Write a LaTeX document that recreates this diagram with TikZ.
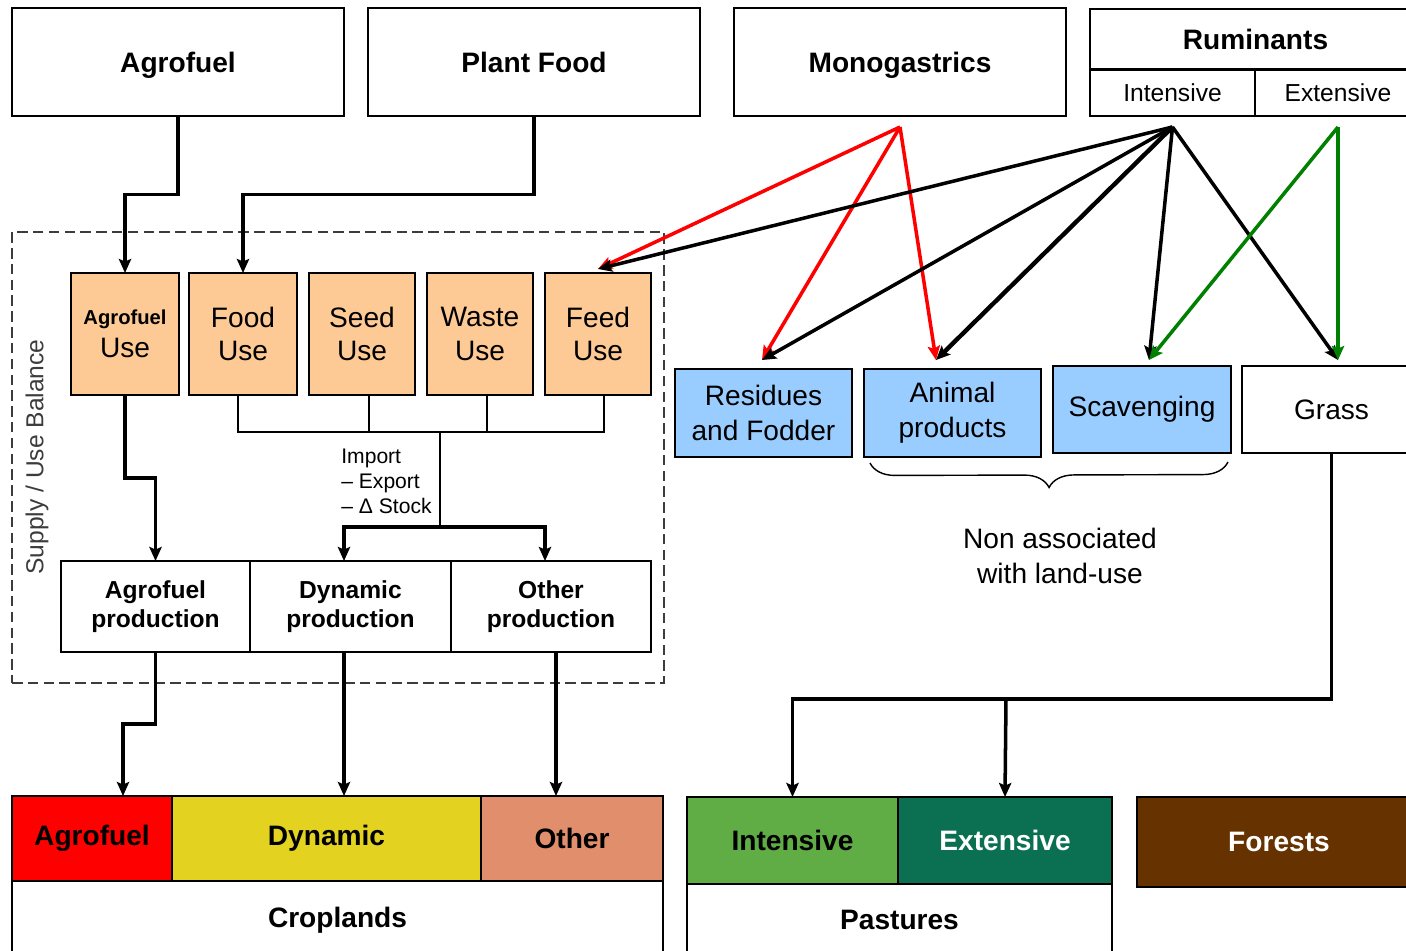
\documentclass[tikz,border=0pt]{standalone}
\usepackage{fontspec}
\setmainfont{Liberation Sans}
\usepackage{tikz}
\usetikzlibrary{arrows.meta,calc,decorations.pathreplacing}
\usepackage{xcolor}

\definecolor{usoNaranja}{RGB}{253,202,150}
\definecolor{azulCaja}{RGB}{153,204,255}
\definecolor{amarilloDin}{RGB}{227,210,32}
\definecolor{salmonOtro}{RGB}{224,142,107}
\definecolor{verdeInt}{RGB}{96,173,70}
\definecolor{verdeExt}{RGB}{11,112,82}
\definecolor{marronBosque}{RGB}{102,51,0}
\definecolor{verdeFlecha}{RGB}{0,128,0}
\definecolor{grisBorde}{RGB}{60,60,60}

\begin{document}
\begin{tikzpicture}[x=0.02cm, y=-0.02cm,
    sz/.style 2 args={minimum width=#1*0.02cm, minimum height=#2*0.02cm},
    caja/.style={draw, line width=0.9pt, inner sep=0pt, outer sep=0pt, align=center,
      font=\fontsize{16}{19}\selectfont},
    negrita/.style={caja, font=\fontsize{16}{19}\selectfont\bfseries},
    prod/.style={caja, font=\fontsize{14}{16.5}\selectfont\bfseries},
    flecha/.style={line width=2pt, -{Stealth[length=8pt,width=7pt,inset=1.5pt]}},
    linea/.style={line width=1pt}]
    \useasboundingbox (0,0) rectangle (1406,950);
    \clip (0,0) rectangle (1406,950);

    % Cajas superiores
    \node[negrita, text depth=0pt, sz={332}{108}] (agrotop) at (178,62) {Agrofuel};
    \node[negrita, text depth=0pt, sz={332}{108}] (plant) at (534,62) {Plant Food};
    \node[negrita, text depth=0pt, sz={332}{108}] (mono) at (900,62) {Monogastrics};
    \node[negrita, sz={331}{60}] (rum) at (1255.5,39) {Ruminants};
    \node[caja, font=\fontsize{14}{16}\selectfont, sz={165}{46}] (rumint) at (1172.5,93) {Intensive};
    \node[caja, font=\fontsize{14}{16}\selectfont, sz={166}{46}] (rumext) at (1338,93) {Extensive};

    % Balance de oferta / uso
    \node[draw=grisBorde, dash pattern=on 6pt off 3pt, line width=1.5pt, sz={652}{451}] (balance) at (338,457.5) {};
    \node[rotate=90, text=grisBorde, font=\fontsize{14}{16}\selectfont] (balancelbl) at (37,457) {Supply / Use Balance};

    % Usos
    \node[caja, fill=usoNaranja, sz={108}{122}] (agrouse) at (125,334) {{\fontsize{11.5}{13}\selectfont\bfseries Agrofuel}\\Use};
    \node[caja, fill=usoNaranja, sz={108}{122}] (fooduse) at (243,334) {Food\\Use};
    \node[caja, fill=usoNaranja, sz={106}{122}] (seeduse) at (362,334) {Seed\\Use};
    \node[caja, fill=usoNaranja, sz={106}{122}] (wasteuse) at (480,334) {Waste\\Use};
    \node[caja, fill=usoNaranja, sz={106}{122}] (feeduse) at (598,334) {Feed\\Use};

    % Producciones
    \node[prod, sz={189}{91}] (agroprod) at (155.5,606.5) {Agrofuel\\production};
    \node[prod, sz={201}{91}] (dynprod) at (350.5,606.5) {Dynamic\\production};
    \node[prod, sz={200}{91}] (othprod) at (551,606.5) {Other\\production};

    % Texto de flujos
    \node[anchor=north west, align=left, inner sep=0pt, font=\fontsize{12}{14}\selectfont] (flows) at (341,449) {Import\\– Export\\– Δ Stock};

    % Cajas de alimento animal
    \node[caja, fill=azulCaja, font=\fontsize{16}{20}\selectfont, sz={177}{88}] (resid) at (763.5,413) {Residues\\and Fodder};
    \node[caja, fill=azulCaja, font=\fontsize{16}{20}\selectfont, sz={177}{88}] (anim) at (952.5,413) {Animal\\products};
    \node[caja, fill=azulCaja, sz={178}{87}] (scav) at (1142,409.5) {Scavenging};
    \node[caja, sz={179}{87}] (grass) at (1331.5,409.5) {Grass};

    % Llave
    \draw[decorate, decoration={brace, mirror, amplitude=0.5cm}, line width=0.8pt]
      ([xshift=0.12cm,yshift=-0.12cm]anim.south west) -- ([xshift=-0.06cm,yshift=-0.18cm]scav.south east);
    \node[align=center, font=\fontsize{16}{20}\selectfont] (nonassoc) at (1060,556) {Non associated\\with land-use};

    % Usos del suelo
    \node[caja, sz={651}{78}] (crop) at (337.5,920) {\bfseries Croplands};
    \node[negrita, fill=red, sz={160}{85}] (cropagro) at (92,838.5) {Agrofuel};
    \node[negrita, fill=amarilloDin, sz={309}{85}] (cropdyn) at (326.5,838.5) {Dynamic};
    \node[negrita, fill=salmonOtro, sz={182}{85}] (cropoth) at (572,838.5) {Other};
    \node[caja, sz={425}{72}] (past) at (899.5,920) {\bfseries Pastures};
    \node[negrita, fill=verdeInt, sz={211}{87}] (pastint) at (792.5,840.5) {Intensive};
    \node[negrita, fill=verdeExt, text=white, sz={214}{87}] (pastext) at (1005,840.5) {Extensive};
    \node[negrita, fill=marronBosque, text=white, sz={284}{90}] (forest) at (1279,842) {Forests};

    % Puntos de salida y llegada de las flechas de colores
    \coordinate (monopt) at ([yshift=-0.22cm]mono.south);
    \coordinate (rumpt) at ([yshift=-0.22cm]rumint.south);
    \coordinate (extpt) at ([yshift=-0.22cm]rumext.south);
    \coordinate (feedin) at ([yshift=0.08cm]feeduse.north);
    \coordinate (residin) at (762,360);
    \coordinate (animin) at (936,360);
    \coordinate (scavin) at (1149,360);
    \coordinate (grassin) at (1338,360);

    % Flechas superiores
    \draw[flecha] (agrotop.south) |- ($(agrotop.south)!.5!(agrouse.north)$) -| (agrouse.north);
    \draw[flecha] (plant.south) |- ($(plant.south)!.5!(fooduse.north)$) -| (fooduse.north);

    % Monogastricos
    \draw[flecha, red] (monopt) -- (feedin);
    \draw[flecha, red] (monopt) -- (residin);
    \draw[flecha, red] (monopt) -- (animin);

    % Rumiantes
    \draw[flecha] (rumpt) -- (feedin);
    \draw[flecha] (rumpt) -- (residin);
    \draw[flecha, line width=2.5pt] (rumpt) -- (animin);
    \draw[flecha] (rumpt) -- (scavin);
    \draw[flecha] (rumpt) -- (grassin);
    \draw[flecha, verdeFlecha] (extpt) -- (scavin);
    \draw[flecha, verdeFlecha] (extpt) -- (grassin);

    % Usos hacia producciones
    \coordinate (bar) at (440,432);
    \coordinate (split) at (440,527);
    \draw[linea] ([xshift=-0.1cm]fooduse.south) |- (bar);
    \draw[linea] ([xshift=0.14cm]seeduse.south) |- (bar);
    \draw[linea] ([xshift=0.14cm]wasteuse.south) |- (bar);
    \draw[linea] ([xshift=0.12cm]feeduse.south) |- (bar);
    \draw[linea] (bar) -- (split);
    \draw[flecha] (split) -| ([xshift=-0.13cm]dynprod.north);
    \draw[flecha] (split) -| ([xshift=-0.12cm]othprod.north);
    \draw[flecha] (agrouse.south) |- ($(agrouse.south)!.5!(agroprod.north)$) -| (agroprod.north);

    % Producciones hacia cultivos
    \coordinate (cropagroin) at (123,796);
    \draw[flecha] (agroprod.south) |- ($(agroprod.south)!.5!(cropagroin)$) -| (cropagroin);
    \draw[flecha] ([xshift=-0.13cm]dynprod.south) -- ([xshift=-0.13cm]dynprod.south |- cropdyn.north);
    \draw[flecha] ([xshift=0.1cm]othprod.south) -- ([xshift=0.1cm]othprod.south |- cropoth.north);

    % Pasto hacia pastizales
    \coordinate (gbus) at (1006,699);
    \draw[flecha] (grass.south) |- (gbus) -| (pastint.north);
    \draw[flecha] (gbus) -- (pastext.north);
\end{tikzpicture}
\end{document}
